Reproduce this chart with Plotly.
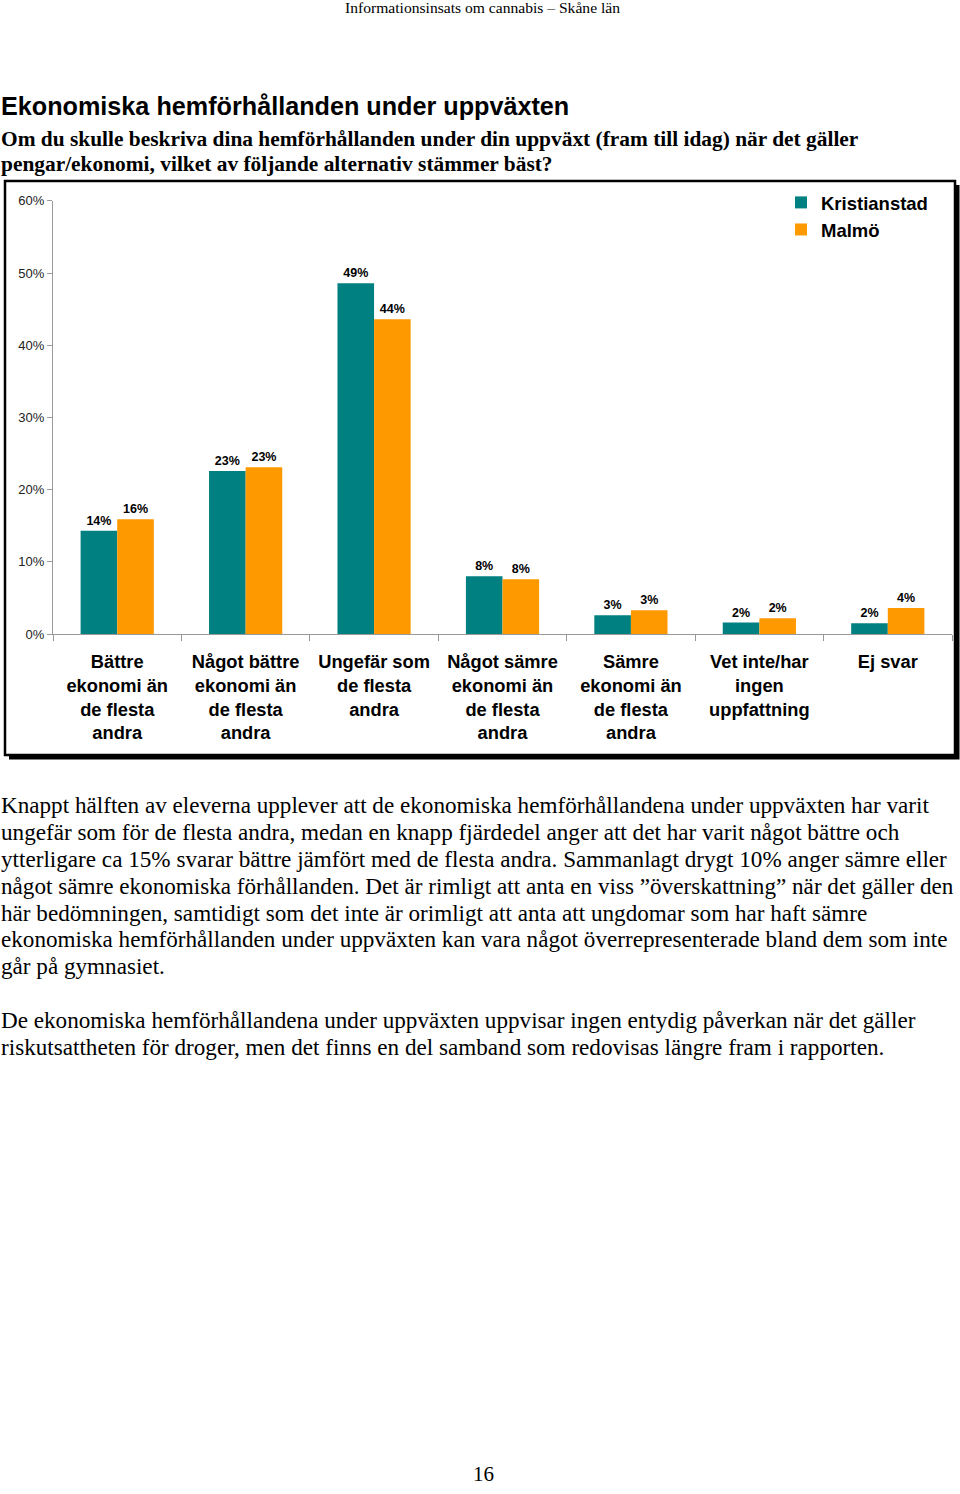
import plotly.graph_objects as go

W, H = 960, 1494

categories = [
    "Bättre<br>ekonomi än<br>de flesta<br>andra",
    "Något bättre<br>ekonomi än<br>de flesta<br>andra",
    "Ungefär som<br>de flesta<br>andra",
    "Något sämre<br>ekonomi än<br>de flesta<br>andra",
    "Sämre<br>ekonomi än<br>de flesta<br>andra",
    "Vet inte/har<br>ingen<br>uppfattning",
    "Ej svar",
]
kristianstad = [0.143, 0.226, 0.486, 0.080, 0.026, 0.016, 0.015]
malmo = [0.159, 0.231, 0.436, 0.076, 0.033, 0.022, 0.036]
kristianstad_labels = ["14%", "23%", "49%", "8%", "3%", "2%", "2%"]
malmo_labels = ["16%", "23%", "44%", "8%", "3%", "2%", "4%"]
y_ticks = [0, 0.1, 0.2, 0.3, 0.4, 0.5, 0.6]

header = "Informationsinsats om cannabis – Skåne län"
title = "Ekonomiska hemförhållanden under uppväxten"
subtitle_lines = [
    "Om du skulle beskriva dina hemförhållanden under din uppväxt (fram till idag) när det gäller",
    "pengar/ekonomi, vilket av följande alternativ stämmer bäst?",
]
para1 = [
    "Knappt hälften av eleverna upplever att de ekonomiska hemförhållandena under uppväxten har varit",
    "ungefär som för de flesta andra, medan en knapp fjärdedel anger att det har varit något bättre och",
    "ytterligare ca 15% svarar bättre jämfört med de flesta andra. Sammanlagt drygt 10% anger sämre eller",
    "något sämre ekonomiska förhållanden. Det är rimligt att anta en viss ”överskattning” när det gäller den",
    "här bedömningen, samtidigt som det inte är orimligt att anta att ungdomar som har haft sämre",
    "ekonomiska hemförhållanden under uppväxten kan vara något överrepresenterade bland dem som inte",
    "går på gymnasiet.",
]
para2 = [
    "De ekonomiska hemförhållandena under uppväxten uppvisar ingen entydig påverkan när det gäller",
    "riskutsattheten för droger, men det finns en del samband som redovisas längre fram i rapporten.",
]
page_number = "16"

TEAL = "#008080"
ORANGE = "#FF9900"
SANS = "Liberation Sans, Arial, sans-serif"
SERIF = "Liberation Serif, Times New Roman, serif"


def px(x):
    return x / W


def py(y):
    # compensate for observed vertical mapping of the rendered page
    f = (y - 6.0) / 0.9906
    return 1 - f / H


fig = go.Figure()
fig.add_trace(go.Bar(
    name="Kristianstad", x=categories, y=kristianstad, marker_color=TEAL,
    marker_line_width=0, text=kristianstad_labels, textposition="outside",
    textfont=dict(family=SANS, size=12.5, color="black", weight="bold"),
    cliponaxis=False,
))
fig.add_trace(go.Bar(
    name="Malmö", x=categories, y=malmo, marker_color=ORANGE,
    marker_line_width=0, text=malmo_labels, textposition="outside",
    textfont=dict(family=SANS, size=12.5, color="black", weight="bold"),
    cliponaxis=False,
))

# chart box with shadow
shapes = [
    dict(type="rect", xref="paper", yref="paper", x0=px(9), x1=px(959.5), y0=py(759), y1=py(184),
         fillcolor="black", line_width=0, layer="below"),
    dict(type="rect", xref="paper", yref="paper", x0=px(5), x1=px(955), y0=py(754.5), y1=py(180),
         fillcolor="white", line=dict(color="black", width=2.5), layer="below"),
]

annotations = []


def add_text(text, x, y, size, family, bold=False, xanchor="left", color="black"):
    annotations.append(dict(
        text=text, x=px(x), y=py(y), xref="paper", yref="paper", showarrow=False,
        xanchor=xanchor, yanchor="middle",
        font=dict(family=family, size=size, color=color, weight="bold" if bold else "normal"),
    ))


add_text(header, 482, 7, 15.6, SERIF, xanchor="center")
add_text(title, -1.5, 105, 25.2, SANS, bold=True)
for i, line in enumerate(subtitle_lines):
    add_text(line, -1.5, 138 + i * 25, 21.4, SERIF, bold=True)
for i, line in enumerate(para1):
    add_text(line, -1.5, 805 + i * 26.8, 23.15, SERIF)
for i, line in enumerate(para2):
    add_text(line, -1.5, 1020 + i * 27, 23.15, SERIF)
add_text(page_number, 483, 1474, 21, SERIF, xanchor="center")

fig.update_layout(
    width=W, height=H, margin=dict(l=0, r=0, t=0, b=0),
    paper_bgcolor="white", plot_bgcolor="rgba(0,0,0,0)",
    barmode="group", bargap=0.43, bargroupgap=0,
    shapes=shapes, annotations=annotations,
    showlegend=True,
    legend=dict(
        x=px(781), y=py(183), xanchor="left", yanchor="top",
        font=dict(family=SANS, size=18.5, color="black", weight="bold"),
        bgcolor="rgba(0,0,0,0)", itemwidth=30, tracegroupgap=0,
    ),
    xaxis=dict(
        domain=[px(53), px(952)], type="category",
        showline=True, linecolor="#999999", linewidth=1,
        ticks="outside", tickson="boundaries", ticklen=6, tickcolor="#999999",
        tickfont=dict(family=SANS, size=18.3, color="black", weight="bold"),
        ticklabelstandoff=11, showgrid=False,
    ),
    yaxis=dict(
        domain=[py(633.5), py(200)], range=[0, 0.6],
        tickvals=y_ticks, tickformat=".0%",
        showline=True, linecolor="#999999", linewidth=1,
        ticks="outside", ticklen=5, tickcolor="#999999",
        tickfont=dict(family=SANS, size=13, color="#222222"),
        showgrid=False, zeroline=False,
    ),
)

fig.write_html("out.html", post_script="document.body.style.margin='0';",
               config={"displayModeBar": False})
